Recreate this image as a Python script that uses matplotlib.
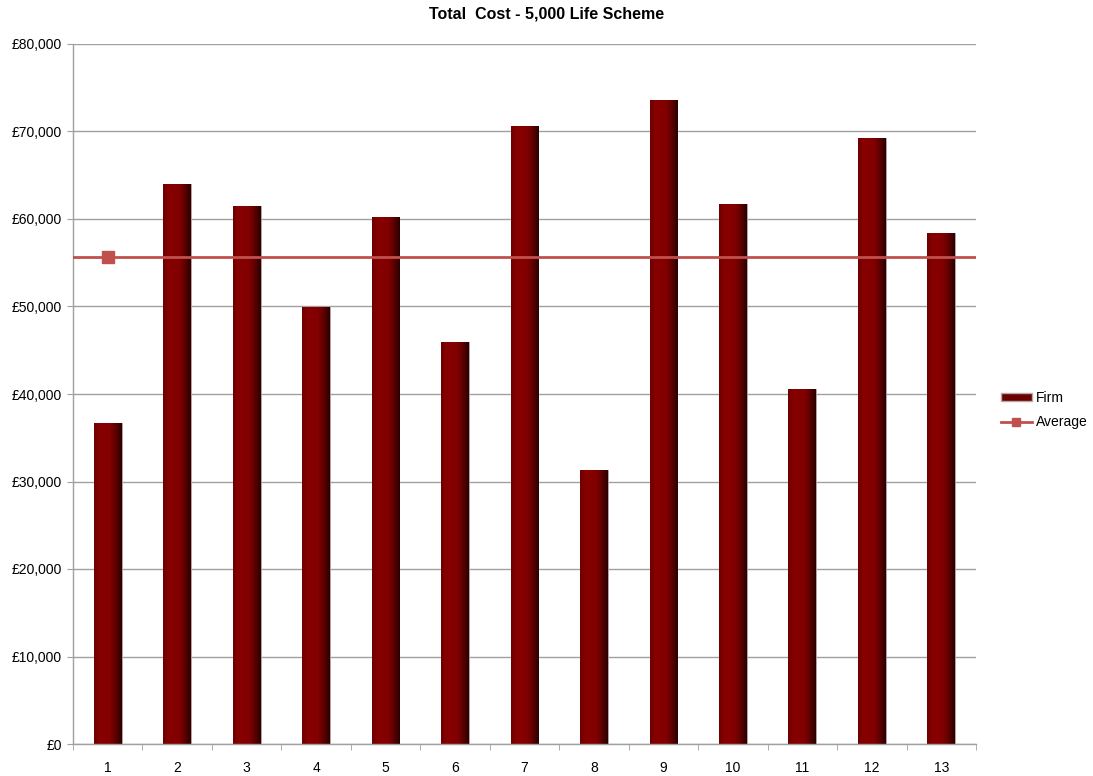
import numpy as np
import matplotlib
matplotlib.use("Agg")
import matplotlib.pyplot as plt
from matplotlib.ticker import FuncFormatter
from matplotlib.colors import LinearSegmentedColormap
from matplotlib.patches import Patch
from matplotlib.lines import Line2D

plt.rcParams['font.family'] = ['Liberation Sans', 'DejaVu Sans']

# data
firms = ['1', '2', '3', '4', '5', '6', '7', '8', '9', '10', '11', '12', '13']
total_cost = [36700, 63970, 61450, 49940, 60200, 45940, 70630,
              31310, 73560, 61750, 40610, 69220, 58400]
average = np.mean(total_cost)

fig = plt.figure(figsize=(10.93, 7.76), dpi=100)
ax = fig.add_axes([73 / 1093, 1 - 744 / 776, (976 - 73) / 1093, 700 / 776])

x = np.arange(1, len(firms) + 1)
bars = ax.bar(x, total_cost, width=0.4, color='#850000',
              edgecolor='#b8a8a8', linewidth=0.6, zorder=2, label='Firm')

# horizontal shading to mimic the bevelled bars
shade = LinearSegmentedColormap.from_list(
    'shade', ['#6e0000', '#880000', '#850000', '#800000', '#5a0000', '#2a0000'])
grad = np.linspace(0, 1, 64).reshape(1, -1)
for b in bars:
    x0, y0 = b.get_x(), b.get_y()
    w, h = b.get_width(), b.get_height()
    im = ax.imshow(grad, cmap=shade, aspect='auto',
                   extent=(x0, x0 + w, y0, y0 + h), zorder=2.1)
    im.set_clip_path(b)

ax.axhline(average, color='#c0504d', lw=2, zorder=3)
ax.plot([1], [average], 's', color='#c0504d', ms=8, zorder=4)

ax.set_xlim(0.5, len(firms) + 0.5)
ax.set_ylim(0, 80000)
ax.set_yticks(np.arange(0, 80001, 10000))
ax.yaxis.set_major_formatter(FuncFormatter(lambda v, p: f'£{v:,.0f}'))
ax.set_xticks(x)
ax.set_xticklabels(firms)
ax.set_xticks(np.arange(0.5, len(firms) + 1, 1), minor=True)
ax.tick_params(axis='x', which='major', length=0, pad=12, labelsize=10)
ax.tick_params(axis='x', which='minor', length=4, color='#a0a0a0', direction='out')
ax.tick_params(axis='y', length=4, color='#a0a0a0', direction='out', labelsize=10, pad=4)

ax.grid(axis='y', color='#a0a0a0', lw=1, zorder=0)
ax.set_axisbelow(True)
for s in ['top', 'right']:
    ax.spines[s].set_visible(False)
for s in ['left', 'bottom']:
    ax.spines[s].set_color('#a0a0a0')
    ax.spines[s].set_linewidth(1)

fig.suptitle('Total  Cost - 5,000 Life Scheme', x=0.5, y=1 - 14 / 776,
             fontsize=11.5, fontweight='bold', va='center')

handles = [Patch(facecolor='#6a0000', edgecolor='#b8a8a8', label='Firm'),
           Line2D([0], [0], color='#c0504d', lw=2, marker='s', ms=6, label='Average')]
fig.legend(handles=handles, loc='center left', bbox_to_anchor=(994 / 1093, 1 - 410 / 776),
           frameon=False, fontsize=10, handlelength=2.2, handleheight=0.5,
           handletextpad=0.3, labelspacing=0.75, borderpad=0)

fig.savefig('out.png', dpi=100)
